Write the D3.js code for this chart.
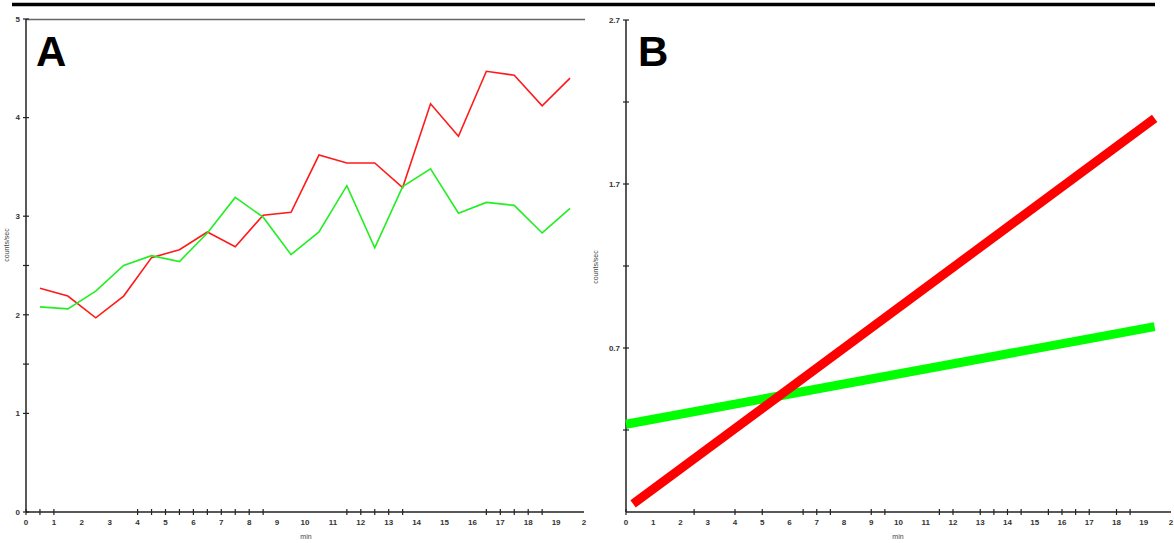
<!DOCTYPE html>
<html>
<head>
<meta charset="utf-8">
<script src="https://cdn.jsdelivr.net/npm/d3@7"></script>
<style>
    html, body { margin: 0; padding: 0; background: #fff; }
    svg { display: block; }
    text { font-family: "Liberation Sans", Arial, sans-serif; }
</style>
</head>
<body>
<main></main>
<script>
// panel A: counts per half minute bin
const minutesA = [0.5, 1.5, 2.5, 3.5, 4.5, 5.5, 6.5, 7.5, 8.5, 9.5, 10.5, 11.5, 12.5, 13.5, 14.5, 15.5, 16.5, 17.5, 18.5, 19.5];
const redA = [2.27, 2.19, 1.97, 2.19, 2.58, 2.66, 2.84, 2.69, 3.01, 3.04, 3.62, 3.54, 3.54, 3.29, 4.14, 3.81, 4.47, 4.43, 4.12, 4.40];
const greenA = [2.08, 2.06, 2.24, 2.50, 2.60, 2.54, 2.83, 3.19, 2.99, 2.61, 2.84, 3.31, 2.68, 3.30, 3.48, 3.03, 3.14, 3.11, 2.83, 3.08];

// panel B: fitted lines (start / end points)
const redB = [{min: 0.26, value: -0.25}, {min: 19.4, value: 2.10}];
const greenB = [{min: 0, value: 0.235}, {min: 19.4, value: 0.83}];

// ticks
const xLabels = ['0', '1', '2', '3', '4', '5', '6', '7', '8', '9', '10', '11', '12', '13', '14', '15', '16', '17', '18', '19', '2'];
const xTicksA = [0, 0.5, 1, 4, 4.5, 5, 5.5, 6, 6.5, 7, 7.5, 8, 8.5, 11.5, 12, 12.5, 13, 13.5, 16.5, 17, 17.5, 18, 18.5];
const xTicksB = [0, 2.5, 4, 5, 6.5, 7, 7.5, 9, 9.5, 11.5, 12, 13, 13.5, 14, 14.5, 15.5, 16, 16.5, 17, 18, 18.5];
const yLabelsA = [0, 1, 2, 3, 4, 5];
const yTicksA = [0, 1, 1.5, 2, 2.5, 3, 4, 5];
const yLabelsB = [0.7, 1.7, 2.7];
const yTicksB = [0.2, 0.7, 1.2, 1.7, 2.2, 2.7];

const width = 1174;
const height = 543;

const svg = d3.select('main')
    .append('svg')
    .attr('width', width)
    .attr('height', height);

svg.append('rect')
    .attr('width', width)
    .attr('height', height)
    .attr('fill', '#fff');

// heavy rule across the top
svg.append('line')
    .attr('x1', 12)
    .attr('x2', 1155)
    .attr('y1', 4.5)
    .attr('y2', 4.5)
    .attr('stroke', '#000')
    .attr('stroke-width', 3.5);

const xA = d3.scaleLinear().domain([0, 20]).range([26, 584]);
const yA = d3.scaleLinear().domain([0, 5]).range([512, 19]);
const xB = d3.scaleLinear().domain([0, 20]).range([626, 1171]);
const yB = d3.scaleLinear().domain([-0.3, 2.7]).range([512, 20]);

function drawAxes(g, x, y, opts) {
    const [x0, x1] = x.range();
    const [y0, y1] = y.range();

    g.append('line')
        .attr('x1', x0).attr('x2', x1)
        .attr('y1', y0).attr('y2', y0)
        .attr('stroke', '#222')
        .attr('stroke-width', 1.5);

    g.append('line')
        .attr('x1', x0).attr('x2', x0)
        .attr('y1', y0).attr('y2', y1)
        .attr('stroke', '#222')
        .attr('stroke-width', 1.5);

    g.selectAll('line.xtick')
        .data(opts.xTicks)
        .enter()
        .append('line')
        .attr('class', 'xtick')
        .attr('x1', d => x(d)).attr('x2', d => x(d))
        .attr('y1', y0 - 3).attr('y2', y0 + 3)
        .attr('stroke', '#222')
        .attr('stroke-width', 1.2);

    g.selectAll('line.ytick')
        .data(opts.yTicks)
        .enter()
        .append('line')
        .attr('class', 'ytick')
        .attr('x1', x0 - 3).attr('x2', x0 + 3)
        .attr('y1', d => y(d)).attr('y2', d => y(d))
        .attr('stroke', '#222')
        .attr('stroke-width', 1.2);

    g.selectAll('text.xlabel')
        .data(xLabels)
        .enter()
        .append('text')
        .attr('class', 'xlabel')
        .attr('x', (d, i) => x(i))
        .attr('y', y0 + 13)
        .attr('text-anchor', 'middle')
        .attr('font-size', 8)
        .attr('font-weight', 'bold')
        .attr('fill', '#333')
        .text(d => d);

    g.selectAll('text.ylabel')
        .data(opts.yLabels)
        .enter()
        .append('text')
        .attr('class', 'ylabel')
        .attr('x', x0 - 6)
        .attr('y', d => y(d))
        .attr('dy', '0.35em')
        .attr('text-anchor', 'end')
        .attr('font-size', 8)
        .attr('font-weight', 'bold')
        .attr('fill', '#333')
        .text(d => opts.format(d));

    g.append('text')
        .attr('x', opts.xTitle[0])
        .attr('y', opts.xTitle[1])
        .attr('text-anchor', 'middle')
        .attr('font-size', 7)
        .attr('fill', '#444')
        .text('min');

    g.append('text')
        .attr('transform', `translate(${opts.yTitle[0]} ${opts.yTitle[1]}) rotate(-90)`)
        .attr('text-anchor', 'middle')
        .attr('font-size', 7)
        .attr('fill', '#444')
        .text('counts/sec');

    g.append('text')
        .attr('x', opts.letter[0])
        .attr('y', opts.letter[1])
        .attr('font-size', 42)
        .attr('font-weight', 'bold')
        .attr('fill', '#000')
        .text(opts.letterText);
}

// panel A
const gA = svg.append('g').attr('class', 'panel-a');

gA.append('line')
    .attr('x1', 26)
    .attr('x2', 585)
    .attr('y1', 19.5)
    .attr('y2', 19.5)
    .attr('stroke', '#666')
    .attr('stroke-width', 1.3);

drawAxes(gA, xA, yA, {
    xTicks: xTicksA,
    yTicks: yTicksA,
    yLabels: yLabelsA,
    format: d => d,
    xTitle: [306, 539],
    yTitle: [9, 245],
    letter: [36, 66],
    letterText: 'A'
});

const lineA = d3.line()
    .x(d => xA(d[0]))
    .y(d => yA(d[1]));

[[redA, '#ff1a1a'], [greenA, '#22ee22']].forEach(([values, color]) => {
    gA.append('path')
        .attr('d', lineA(values.map((v, i) => [minutesA[i], v])))
        .attr('fill', 'none')
        .attr('stroke', color)
        .attr('stroke-width', 1.6);
});

// panel B
const gB = svg.append('g').attr('class', 'panel-b');

drawAxes(gB, xB, yB, {
    xTicks: xTicksB,
    yTicks: yTicksB,
    yLabels: yLabelsB,
    format: d3.format('.1f'),
    xTitle: [898, 539],
    yTitle: [598, 267],
    letter: [638, 66],
    letterText: 'B'
});

const lineB = d3.line()
    .x(d => xB(d.min))
    .y(d => yB(d.value));

[[greenB, '#00ff00'], [redB, '#ff0000']].forEach(([points, color]) => {
    gB.append('path')
        .attr('d', lineB(points))
        .attr('fill', 'none')
        .attr('stroke', color)
        .attr('stroke-width', 9);
});
</script>
</body>
</html>
